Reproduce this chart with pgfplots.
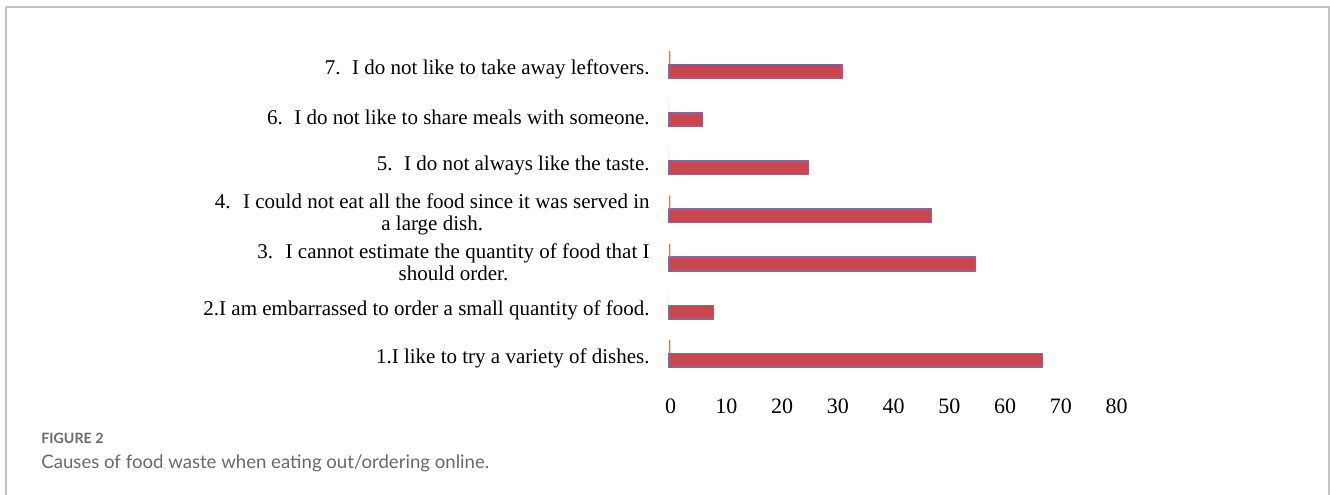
\documentclass[border=0pt]{standalone}
\usepackage{pgfplots}
\pgfplotsset{compat=1.18}
\usepackage{fontspec}
\setmainfont{Liberation Serif}
\newfontfamily\capfont{Lato}
\definecolor{barred}{RGB}{200,70,76}
\definecolor{baredge}{RGB}{140,100,150}
\definecolor{barorange}{RGB}{237,125,49}
\definecolor{framegray}{RGB}{195,195,195}
\definecolor{capgray}{RGB}{105,105,105}
\begin{document}
\begin{tikzpicture}
\useasboundingbox (0,0) rectangle (665pt,247pt);
\draw[framegray, line width=0.75pt] (3pt,-1pt) -- (3pt,243.5pt) -- (664.5pt,243.5pt) -- (664.5pt,-1pt);
\begin{axis}[
  at={(334.5pt,58.2pt)}, anchor=south west,
  scale only axis, width=223pt, height=168.6pt,
  xmin=0, xmax=80, ymin=0.5, ymax=7.5,
  xbar, bar width=6.75pt,
  axis line style={draw=none},
  major tick length=0pt, tick style={draw=none},
  /pgf/number format/assume math mode=true,
  xtick={0,10,...,80},
  ytick={1,2,3,4,5,6,7},
  yticklabels={
    {1.I like to try a variety of dishes.},
    {2.I am embarrassed to order a small quantity of food.},
    {3.\hspace{0.6em}I cannot estimate the quantity of food that I\\should order.},
    {4.\hspace{0.6em}I could not eat all the food since it was served in\\a large dish.},
    {5.\hspace{0.55em}I do not always like the taste.},
    {6.\hspace{0.55em}I do not like to share meals with someone.},
    {7.\hspace{0.55em}I do not like to take away leftovers.}},
  yticklabel style={anchor=east, inner sep=0pt, xshift=-9.5pt, yshift=-2.5pt, align=center, font=\fontsize{10.5}{11}\selectfont},
  xticklabel style={anchor=base, inner sep=0pt, yshift=-17.7pt, xshift=0.8pt, font=\fontsize{11}{12}\selectfont},
  clip=false,
]
\addplot[xbar, bar shift=-3.4pt, fill=barred, draw=baredge, line width=0.8pt]
  coordinates {(67,1) (8,2) (55,3) (47,4) (25,5) (6,6) (31,7)};
\addplot[xbar, bar shift=3.4pt, fill=barorange, draw=none]
  coordinates {(0.25,1) (0,2) (0.25,3) (0.25,4) (0,5) (0,6) (0.25,7)};
\end{axis}
\node[anchor=base west, inner sep=0pt, text=capgray] at (20.5pt,25.5pt) {\capfont\fontsize{7.1}{8}\selectfont\bfseries FIGURE 2};
\node[anchor=base west, inner sep=0pt, text=capgray] at (20.5pt,13pt) {\capfont\fontsize{9.3}{10}\selectfont Causes of food waste when eating out/ordering online.};
\end{tikzpicture}
\end{document}
